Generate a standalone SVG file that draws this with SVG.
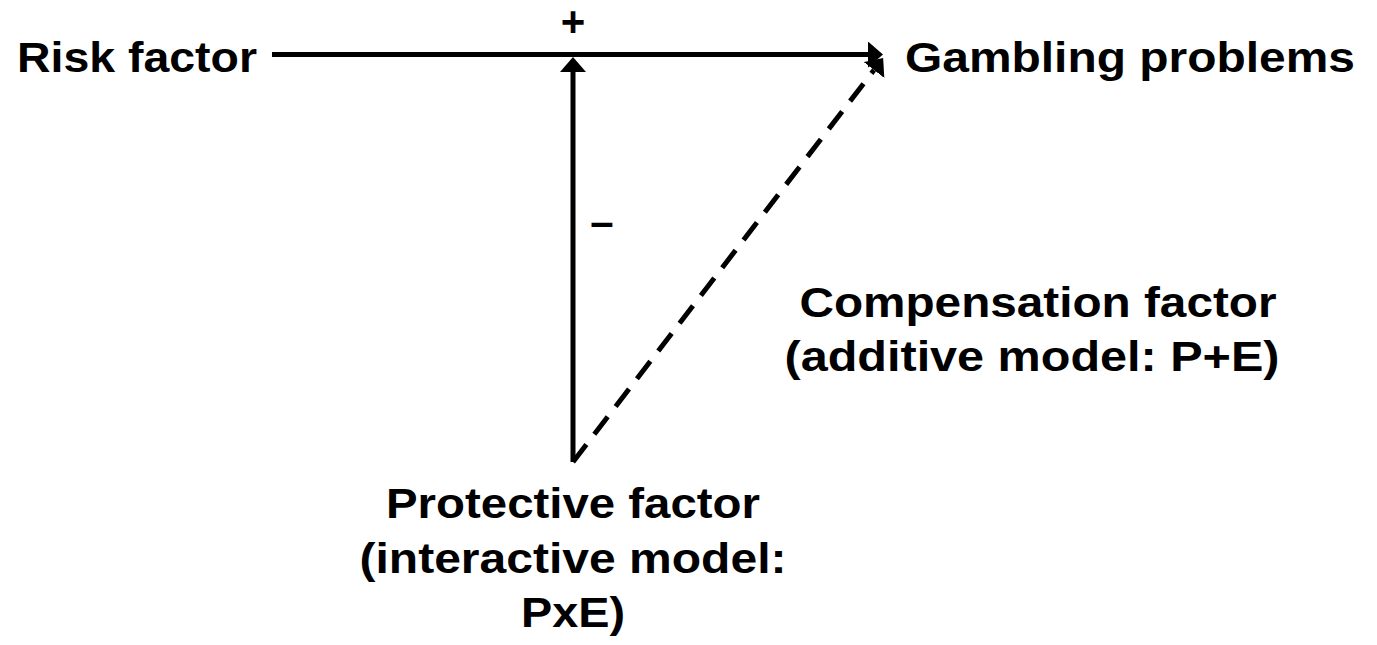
<svg xmlns="http://www.w3.org/2000/svg" width="1377" height="645" viewBox="0 0 1377 645">
<style>
text{font-family:"Liberation Sans",Arial,sans-serif;font-weight:bold;font-size:42px;fill:#000}
.l{stroke:#000;stroke-width:5;fill:none}
.d{stroke-dasharray:22 13}
</style>
<defs>
<marker id="ah" viewBox="0 0 3 5.2" refX="0" refY="2.6" markerWidth="3" markerHeight="5.2" orient="auto" markerUnits="strokeWidth">
<path d="M0,0 L3,2.6 L0,5.2 z" fill="#000"/>
</marker>
</defs>
<rect width="1377" height="645" fill="#fff"/>
<g id="connectors">
<line class="l" x1="272" y1="54.5" x2="868" y2="54.5" marker-end="url(#ah)"/>
<line class="l" x1="573" y1="462" x2="573" y2="72" marker-end="url(#ah)"/>
<line class="l d" x1="573" y1="462" x2="874" y2="70" marker-end="url(#ah)"/>
</g>
<g id="risk"><text x="17" y="72" textLength="240" lengthAdjust="spacingAndGlyphs">Risk factor</text></g>
<g id="gambling"><text x="905" y="72" textLength="450" lengthAdjust="spacingAndGlyphs">Gambling problems</text></g>
<g id="plus"><text x="573" y="36" text-anchor="middle">+</text></g>
<g id="minus"><text x="602" y="236" text-anchor="middle">–</text></g>
<g id="compensation"><text x="1038" y="317" text-anchor="middle" textLength="477" lengthAdjust="spacingAndGlyphs">Compensation factor</text><text x="1032" y="371" text-anchor="middle" textLength="495" lengthAdjust="spacingAndGlyphs">(additive model: P+E)</text></g>
<g id="protective"><text x="573" y="518" text-anchor="middle" textLength="374" lengthAdjust="spacingAndGlyphs">Protective factor</text><text x="573" y="573" text-anchor="middle" textLength="427" lengthAdjust="spacingAndGlyphs">(interactive model:</text><text x="573" y="627" text-anchor="middle" textLength="104" lengthAdjust="spacingAndGlyphs">PxE)</text></g>
</svg>
